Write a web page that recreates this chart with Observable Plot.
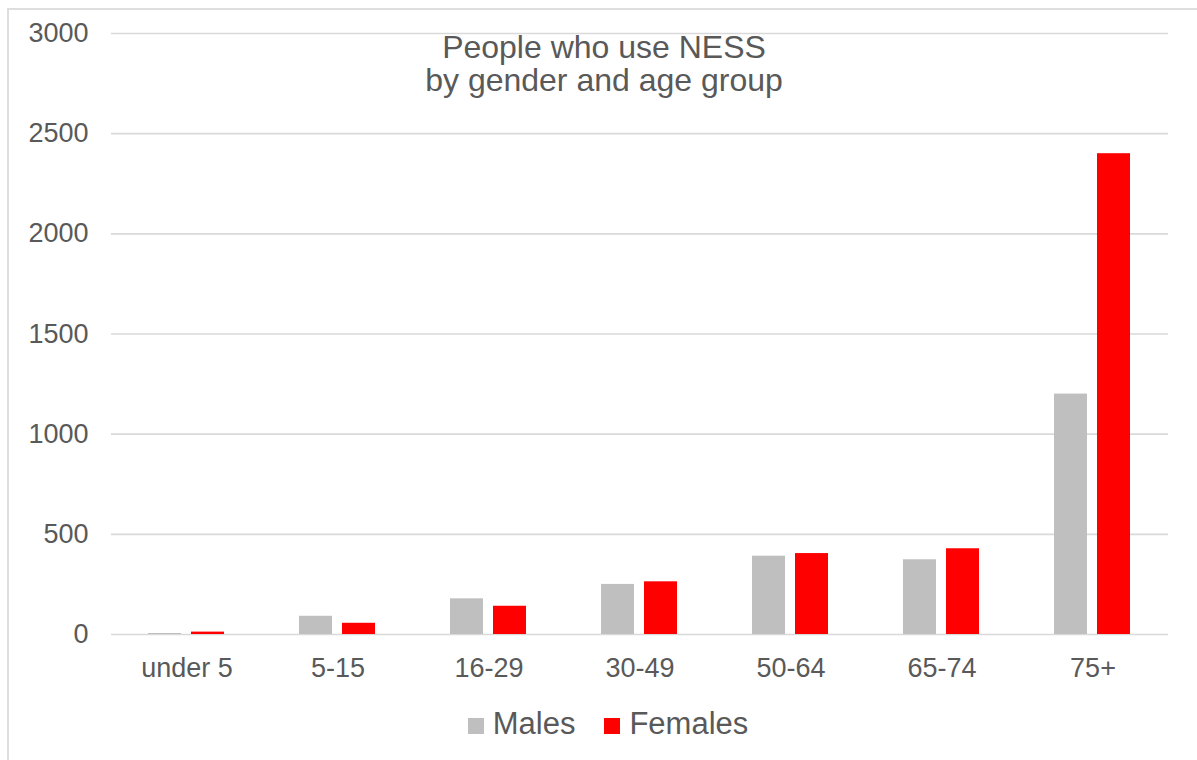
<!DOCTYPE html>
<html>
<head>
<meta charset="utf-8">
<script src="https://cdn.jsdelivr.net/npm/d3@7"></script>
<script src="https://cdn.jsdelivr.net/npm/@observablehq/plot@0.6"></script>
<style>
  html, body { margin: 0; padding: 0; background: #fff; }
  #wrap { position: relative; width: 1197px; height: 760px; overflow: hidden; font-family: "Liberation Sans", Arial, sans-serif; color: #595959; }
  #frame { position: absolute; left: 7px; top: 8px; right: -10px; bottom: -10px; border-left: 2px solid #dedede; border-top: 2px solid #dedede; }
  #chart { position: absolute; left: 0; top: 0; }
  #title { position: absolute; left: 0; width: 1208px; top: 31px; text-align: center; font-size: 32px; line-height: 33px; }
  #legend { position: absolute; left: 0; width: 1216px; top: 708px; text-align: center; font-size: 31px; line-height: 32px; white-space: nowrap; }
  .sw { display: inline-block; width: 16px; height: 16px; margin-right: 9px; vertical-align: baseline; }
  .item { display: inline-block; }
  .item + .item { margin-left: 29px; }
</style>
</head>
<body>
<div id="wrap">
  <div id="frame"></div>
  <div id="chart"></div>
  <div id="title">People who use NESS<br>by gender and age group</div>
  <div id="legend"></div>
</div>
<script>
const ages = ["under 5", "5-15", "16-29", "30-49", "50-64", "65-74", "75+"];
const genders = ["Males", "Females"];
const males = [5, 91, 178, 250, 391, 373, 1200];
const females = [12, 56, 141, 263, 404, 428, 2400];
const yTicks = [0, 500, 1000, 1500, 2000, 2500, 3000];
const colors = ["#bfbfbf", "#ff0000"];

const data = [];
ages.forEach((a, i) => {
  data.push({age: a, gender: "Males", value: males[i]});
  data.push({age: a, gender: "Females", value: females[i]});
});

const chart = Plot.plot({
  width: 1197,
  height: 760,
  marginLeft: 108,
  marginRight: 27,
  marginTop: 33,
  marginBottom: 126,
  style: {fontFamily: '"Liberation Sans", Arial, sans-serif', fontSize: "27px", color: "#595959", background: "transparent", overflow: "visible"},
  fx: {domain: ages, padding: 0, label: null, tickSize: 0, tickPadding: 23},
  x: {domain: genders, axis: null, paddingInner: 0.227, paddingOuter: 0.8375},
  y: {domain: [0, 3000], ticks: yTicks, label: null, tickSize: 0, tickPadding: 23, tickFormat: d => String(d)},
  color: {domain: genders, range: colors},
  marks: [
    Plot.gridY(yTicks, {stroke: "#d9d9d9", strokeOpacity: 1, strokeWidth: 1.6}),
    Plot.barY(data, {fx: "age", x: "gender", y: "value", fill: "gender"})
  ]
});
document.getElementById("chart").appendChild(chart);

const legend = document.getElementById("legend");
genders.forEach((g, i) => {
  const item = document.createElement("span");
  item.className = "item";
  const sw = document.createElement("span");
  sw.className = "sw";
  sw.style.background = colors[i];
  item.appendChild(sw);
  item.appendChild(document.createTextNode(g));
  legend.appendChild(item);
});
</script>
</body>
</html>
